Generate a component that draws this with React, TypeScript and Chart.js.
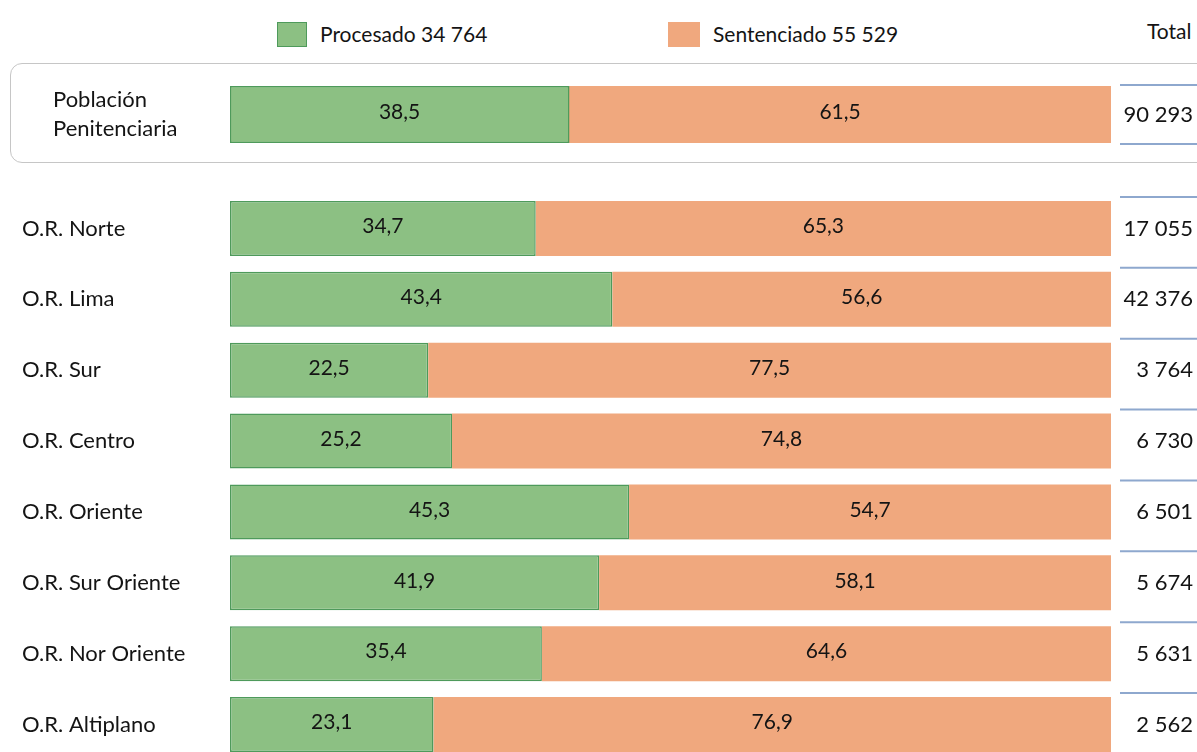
import React, { useEffect, useRef } from "react";
import { Chart, registerables } from "chart.js";

Chart.register(...registerables);

// ---- data ----
const seriesNames = ["Procesado", "Sentenciado"];
const seriesTotals = [34764, 55529];
const totalHeader = "Total";

const popCategory = [["Población", "Penitenciaria"]];
const popProcesado = [38.5];
const popSentenciado = [61.5];
const popTotal = [90293];

const regions = [
  "O.R. Norte",
  "O.R. Lima",
  "O.R. Sur",
  "O.R. Centro",
  "O.R. Oriente",
  "O.R. Sur Oriente",
  "O.R. Nor Oriente",
  "O.R. Altiplano",
];
const regProcesado = [34.7, 43.4, 22.5, 25.2, 45.3, 41.9, 35.4, 23.1];
const regSentenciado = [65.3, 56.6, 77.5, 74.8, 54.7, 58.1, 64.6, 76.9];
const regTotal = [17055, 42376, 3764, 6730, 6501, 5674, 5631, 2562];

// ---- style ----
const GREEN = "#8CC083";
const GREEN_BORDER = "#4E9A5B";
const ORANGE = "#F0A87E";
const TEXT = "#141414";
const LINE_BLUE = "#8EA8CE";
const FONT = "Lato, 'Open Sans', sans-serif";

const fmtInt = (n: number) => n.toString().replace(/\B(?=(\d{3})+(?!\d))/g, " ");
const fmtPct = (n: number) => n.toFixed(1).replace(".", ",");

function makeOverlay(totals: number[], bottomLine: boolean, lineOffset: number) {
  return {
    id: "overlay",
    afterDatasetsDraw(chart: any) {
      const ctx = chart.ctx as CanvasRenderingContext2D;
      ctx.save();
      ctx.fillStyle = TEXT;
      ctx.textBaseline = "middle";
      ctx.textAlign = "center";
      ctx.font = `21px ${FONT}`;
      [0, 1].forEach((di) => {
        const meta = chart.getDatasetMeta(di);
        meta.data.forEach((bar: any, i: number) => {
          const v = chart.data.datasets[di].data[i] as number;
          ctx.fillText(fmtPct(v), (bar.x + bar.base) / 2, bar.y - 2);
        });
      });
      const meta0 = chart.getDatasetMeta(0);
      const xRight = chart.width - 4;
      const xLineStart = chart.chartArea.right + 9;
      ctx.textAlign = "right";
      ctx.font = `22px ${FONT}`;
      meta0.data.forEach((bar: any, i: number) => {
        ctx.fillStyle = TEXT;
        ctx.fillText(fmtInt(totals[i]), xRight, bar.y);
        const top = bar.y - bar.height / 2 - lineOffset;
        ctx.strokeStyle = LINE_BLUE;
        ctx.lineWidth = 2;
        ctx.beginPath();
        ctx.moveTo(xLineStart, top);
        ctx.lineTo(chart.width, top);
        ctx.stroke();
        if (bottomLine) {
          const bot = bar.y + bar.height / 2 + lineOffset;
          ctx.beginPath();
          ctx.moveTo(xLineStart, bot);
          ctx.lineTo(chart.width, bot);
          ctx.stroke();
        }
      });
      ctx.restore();
    },
  };
}

function buildConfig(
  labels: any[],
  proc: number[],
  sent: number[],
  totals: number[],
  padding: { left: number; right: number; top: number; bottom: number },
  axisWidth: number,
  barPct: number,
  bottomLine: boolean,
  lineOffset: number
): any {
  return {
    type: "bar",
    data: {
      labels,
      datasets: [
        {
          label: seriesNames[0],
          data: proc,
          backgroundColor: GREEN,
          borderColor: GREEN_BORDER,
          borderWidth: 1.5,
          borderSkipped: false,
          categoryPercentage: 1,
          barPercentage: barPct,
        },
        {
          label: seriesNames[1],
          data: sent,
          backgroundColor: ORANGE,
          borderWidth: 0,
          categoryPercentage: 1,
          barPercentage: barPct,
        },
      ],
    },
    options: {
      indexAxis: "y",
      animation: false,
      responsive: false,
      maintainAspectRatio: false,
      layout: { padding },
      plugins: { legend: { display: false }, tooltip: { enabled: false } },
      scales: {
        x: { stacked: true, min: 0, max: 100, display: false },
        y: {
          stacked: true,
          grid: { display: false, drawTicks: false },
          border: { display: false },
          ticks: {
            crossAlign: "far",
            padding: 0,
            color: TEXT,
            font: { family: FONT, size: 22, lineHeight: 1.35 },
          },
          afterFit: (s: any) => {
            s.width = axisWidth;
          },
        },
      },
    },
    plugins: [makeOverlay(totals, bottomLine, lineOffset)],
  };
}

export default function App() {
  const ref1 = useRef<HTMLCanvasElement>(null);
  const ref2 = useRef<HTMLCanvasElement>(null);

  useEffect(() => {
    document.body.style.margin = "0";
    const c1 = new Chart(
      ref1.current!,
      buildConfig(
        popCategory,
        popProcesado,
        popSentenciado,
        popTotal,
        { left: 53, right: 86, top: 32, bottom: 32 },
        177,
        1,
        true,
        1
      )
    );
    const c2 = new Chart(
      ref2.current!,
      buildConfig(
        regions,
        regProcesado,
        regSentenciado,
        regTotal,
        { left: 22, right: 86, top: 28, bottom: 16 },
        208,
        0.776,
        false,
        4
      )
    );
    return () => {
      c1.destroy();
      c2.destroy();
    };
  }, []);

  const legendText: React.CSSProperties = {
    position: "absolute",
    top: 19,
    fontFamily: FONT,
    fontSize: 21,
    color: TEXT,
    lineHeight: "30px",
    whiteSpace: "nowrap",
  };

  return (
    <div
      style={{
        position: "relative",
        width: 1197,
        height: 752,
        overflow: "hidden",
        background: "#ffffff",
      }}
    >
      <div style={{ position: "absolute", left: 277, top: 22, width: 30, height: 25, background: GREEN, border: `1px solid ${GREEN_BORDER}`, boxSizing: "border-box" }} />
      <div style={{ ...legendText, left: 320 }}>{`${seriesNames[0]} ${fmtInt(seriesTotals[0])}`}</div>
      <div style={{ position: "absolute", left: 668, top: 22, width: 32, height: 25, background: ORANGE }} />
      <div style={{ ...legendText, left: 713 }}>{`${seriesNames[1]} ${fmtInt(seriesTotals[1])}`}</div>
      <div style={{ ...legendText, left: 1147, top: 16 }}>{totalHeader}</div>

      <div
        style={{
          position: "absolute",
          left: 10,
          top: 63,
          width: 1220,
          height: 100,
          border: "1.5px solid #c6c6c6",
          borderRadius: 12,
          boxSizing: "border-box",
        }}
      />
      <canvas ref={ref1} width={1197} height={121} style={{ position: "absolute", left: 0, top: 54 }} />
      <canvas ref={ref2} width={1197} height={611} style={{ position: "absolute", left: 0, top: 165 }} />
    </div>
  );
}
